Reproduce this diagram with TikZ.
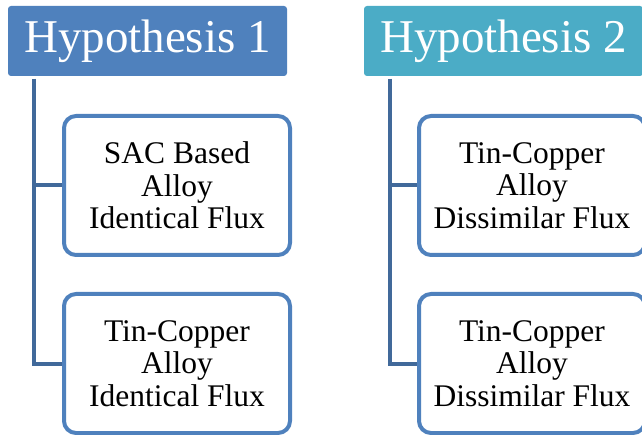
\documentclass[tikz,border=0pt]{standalone}
\usepackage{fontspec}
\setmainfont{Liberation Serif}
\definecolor{hypblue}{HTML}{4F81BD}
\definecolor{hypteal}{HTML}{4BACC6}
\definecolor{linkblue}{HTML}{41699A}
\begin{document}
\begin{tikzpicture}[x=1pt,y=-1pt,
  hypbox/.style={rectangle, rounded corners=3pt, minimum width=279pt, minimum height=70pt,
    text=white, font=\fontsize{47}{50}\selectfont, inner sep=0pt},
  alloybox/.style={draw=hypblue, line width=4pt, fill=white, rounded corners=12pt,
    minimum width=226pt, minimum height=139pt, align=center, inner sep=0pt,
    font=\fontsize{31.5}{32.5}\selectfont},
  link/.style={draw=linkblue, line width=4pt}]
\useasboundingbox (0,0) rectangle (642,435);

\node [hypbox, fill=hypblue] (hyp1) at (147.5,41) {Hypothesis 1};
\node [hypbox, fill=hypteal] (hyp2) at (503.5,41) {Hypothesis 2};

\node [alloybox] (sac) at (177,185.5) {SAC Based\\Alloy\\Identical Flux};
\node [alloybox] (tinA) at (177,363.5) {Tin-Copper\\Alloy\\Identical Flux};
\node [alloybox] (tinB) at (532,185.5) {Tin-Copper\\Alloy\\Dissimilar Flux};
\node [alloybox] (tinC) at (532,363.5) {Tin-Copper\\Alloy\\Dissimilar Flux};

\coordinate (top1) at (34,79);
\coordinate (top2) at (390,79);
\draw [link] (top1) |- (sac.west);
\draw [link] (top1) |- (tinA.west);
\draw [link] (top2) |- (tinB.west);
\draw [link] (top2) |- (tinC.west);
\end{tikzpicture}
\end{document}
